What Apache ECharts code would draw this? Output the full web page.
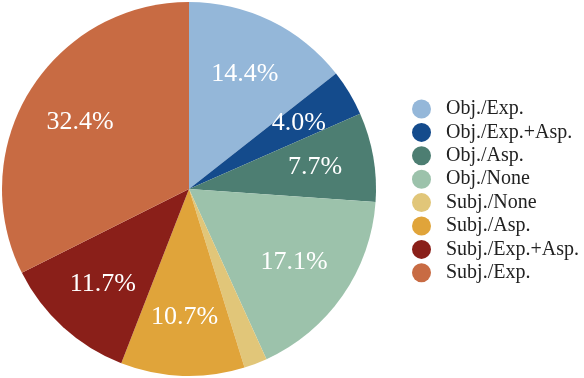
<!DOCTYPE html>
<html>
<head>
<meta charset="UTF-8"/>
<script type="text/javascript" src="https://cdn.jsdelivr.net/npm/echarts@6/dist/echarts.min.js"></script>
<style>
  html, body { margin: 0; padding: 0; background: #fff; }
  #main { width: 584px; height: 378px; }
</style>
</head>
<body>
<div id="main"></div>
<script type="text/javascript">
  // categories and shares (%)
  var categories = ['Obj./Exp.', 'Obj./Exp.+Asp.', 'Obj./Asp.', 'Obj./None',
                    'Subj./None', 'Subj./Asp.', 'Subj./Exp.+Asp.', 'Subj./Exp.'];
  var shares = [14.4, 4.0, 7.7, 17.1, 2.0, 10.7, 11.7, 32.4];
  var colors = ['#94b7d9', '#144b8c', '#4d7e72', '#9cc2ab',
                '#e1c679', '#e0a43a', '#8a1f19', '#c86b43'];

  var pieData = categories.map(function (name, i) {
    return { name: name, value: shares[i] };
  });

  var myChart = echarts.init(document.getElementById('main'));

  var option = {
    color: colors,
    animation: false,
    legend: {
      orient: 'vertical',
      left: 412,
      top: 99,
      padding: 0,
      icon: 'circle',
      itemWidth: 19,
      itemHeight: 19,
      itemGap: 3.4,
      textStyle: {
        fontFamily: 'Liberation Serif',
        fontSize: 20,
        lineHeight: 20,
        color: '#222',
        padding: [0, 0, 0, 10]
      },
      data: categories
    },
    series: [
      {
        // the visible pie
        type: 'pie',
        center: [189, 189],
        radius: [0, 187],
        startAngle: 90,
        clockwise: true,
        label: { show: false },
        labelLine: { show: false },
        emphasis: { disabled: true },
        data: pieData
      },
      {
        // transparent copy, only used to put the % labels further out
        type: 'pie',
        center: [189, 189],
        radius: [0, 250],
        startAngle: 90,
        clockwise: true,
        silent: true,
        legendHoverLink: false,
        itemStyle: { color: 'rgba(0,0,0,0)' },
        label: {
          show: true,
          position: 'inside',
          formatter: function (p) { return p.value.toFixed(1) + '%'; },
          fontFamily: 'Liberation Serif',
          fontSize: 26,
          color: '#fff'
        },
        labelLine: { show: false },
        emphasis: { disabled: true },
        data: pieData
      }
    ]
  };

  myChart.setOption(option);
</script>
</body>
</html>
